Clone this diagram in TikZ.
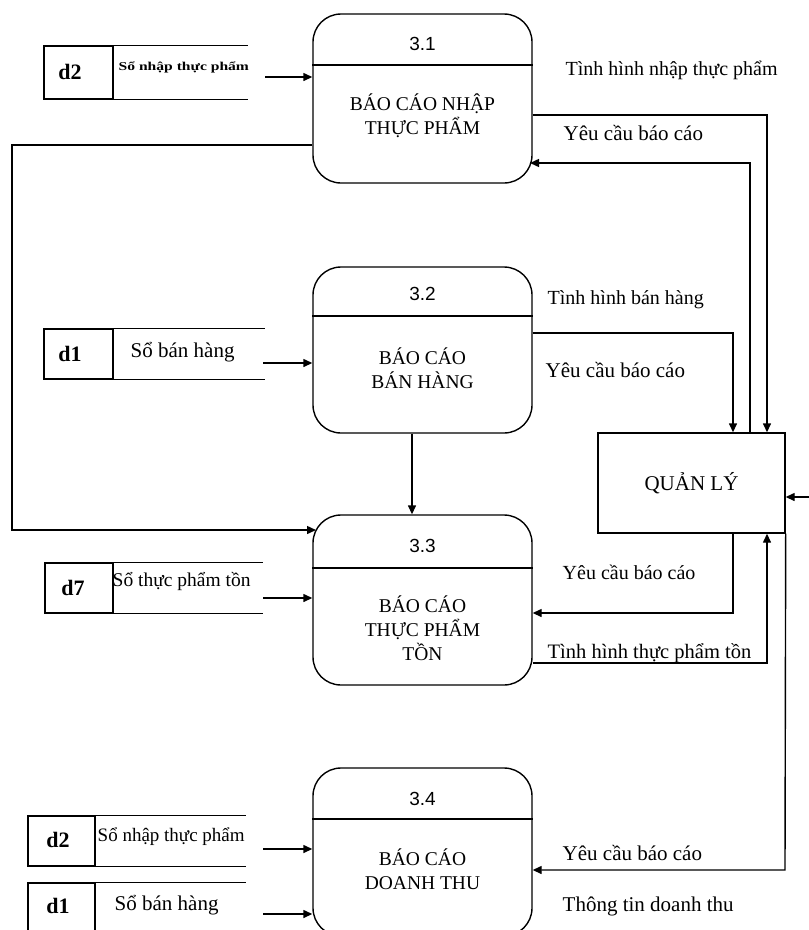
\documentclass[tikz,border=0pt]{standalone}
\usepackage{fontspec}
\setmainfont{Liberation Serif}
\newfontfamily\numfont{Liberation Sans}
\usetikzlibrary{arrows.meta}
\begin{document}
\begin{tikzpicture}[x=1pt,y=-1pt,
  line width=1.4pt,
  arr/.style={-{Triangle[length=9pt,width=8pt]}},
  proc/.style={draw, rounded corners=28pt, minimum width=219pt, minimum height=#1, inner sep=0pt},
  ptitle/.style={font=\fontsize{19.5}{24}\selectfont, align=center, inner sep=0pt},
  pnum/.style={font=\numfont\fontsize{19}{23}\selectfont, inner sep=0pt},
  lab/.style={font=\fontsize{20}{24}\selectfont, anchor=west, inner sep=0pt},
  ylab/.style={lab, font=\fontsize{21}{24}\selectfont},
  sid/.style={font=\bfseries\fontsize{22}{24}\selectfont, inner sep=0pt},
  sbox/.style={draw, inner sep=0pt, minimum width=#1},
]
\useasboundingbox (0,0) rectangle (809,930);
\clip (0,0) rectangle (809,930);

% processes
\node[proc=169pt] (p1) at (422.5,98.5) {};
\node[proc=166pt] (p2) at (422.5,350) {};
\node[proc=170pt] (p3) at (422.5,600) {};
\node[proc=168pt] (p4) at (422.5,852) {};
\draw (p1.west |- 0,65) -- (p1.east |- 0,65);
\draw (p2.west |- 0,316) -- (p2.east |- 0,316);
\draw (p3.west |- 0,568) -- (p3.east |- 0,568);
\draw (p4.west |- 0,819) -- (p4.east |- 0,819);
\node[pnum] (n1) at (422.5,44) {3.1};
\node[pnum] (n2) at (422.5,294) {3.2};
\node[pnum] (n3) at (422.5,546) {3.3};
\node[pnum] (n4) at (422.5,799) {3.4};
\node[ptitle] (t1) at (422.5,116) {BÁO CÁO NHẬP\\THỰC PHẨM};
\node[ptitle] (t2) at (422.5,368) {BÁO CÁO\\BÁN HÀNG};
\node[ptitle] (t3) at (422.5,628) {BÁO CÁO\\THỰC PHẨM\\TỒN};
\node[ptitle] (t4) at (422.5,869) {BÁO CÁO\\DOANH THU};

% manager
\node[draw, minimum width=187pt, minimum height=100pt, inner sep=0pt,
  font=\fontsize{21}{24}\selectfont] (ql) at (691.5,483) {QUẢN LÝ};

% data stores
\node[sbox=69pt, minimum height=53pt] (s1) at (78.5,72.5) {};
\draw (s1.north east) -- (248,0 |- s1.north east);
\draw (s1.south east) -- (248,0 |- s1.south east);
\node[sid] (i1) at (70,72) {d2};
\node[font=\bfseries\fontsize{12}{14}\selectfont, anchor=west, inner sep=0pt] (x1) at (118,67) {\scalebox{1.3}[1]{Sổ nhập thực phẩm}};

\node[sbox=69pt, minimum height=50pt] (s2) at (78.5,354) {};
\draw (s2.north east) -- (265,0 |- s2.north east);
\draw (s2.south east) -- (265,0 |- s2.south east);
\node[sid] (i2) at (70,354) {d1};
\node[lab, font=\fontsize{21}{24}\selectfont] (x2) at (130,352) {Sổ bán hàng};

\node[sbox=68pt, minimum height=50pt] (s3) at (79,588) {};
\draw (s3.north east) -- (263,0 |- s3.north east);
\draw (s3.south east) -- (263,0 |- s3.south east);
\node[sid] (i3) at (73,588) {d7};
\node[lab, font=\fontsize{19.5}{23}\selectfont] (x3) at (112,582) {Sổ thực phẩm tồn};

\node[sbox=67pt, minimum height=50pt] (s4) at (61.5,841) {};
\draw (s4.north east) -- (246,0 |- s4.north east);
\draw (s4.south east) -- (246,0 |- s4.south east);
\node[sid] (i4) at (58,840) {d2};
\node[lab, font=\fontsize{19}{23}\selectfont] (x4) at (97,837) {Sổ nhập thực phẩm};

\node[sbox=67pt, minimum height=70pt] (s5) at (61.5,918) {};
\draw (s5.north east) -- (246,0 |- s5.north east);
\node[sid] (i5) at (58,906) {d1};
\node[lab, font=\fontsize{21}{24}\selectfont] (x5) at (114,905) {Sổ bán hàng};

% flow labels
\node[lab] (l1) at (565,70) {Tình hình nhập thực phẩm};
\node[ylab] (l2) at (563,133) {Yêu cầu báo cáo};
\node[lab] (l3) at (547,300) {Tình hình bán hàng};
\node[ylab] (l4) at (545,370) {Yêu cầu báo cáo};
\node[lab] (l5) at (562,572) {Yêu cầu báo cáo};
\node[lab, font=\fontsize{20.5}{24}\selectfont] (l6) at (547,653) {Tình hình thực phẩm tồn};
\node[ylab] (l7) at (562,853) {Yêu cầu báo cáo};
\node[lab, font=\fontsize{21}{24}\selectfont] (l8) at (562,906) {Thông tin doanh thu};

% free ends
\coordinate (a1) at (265,77);
\coordinate (a2) at (263,363);
\coordinate (a3) at (263,598);
\coordinate (a4) at (263,849);
\coordinate (a5) at (263,914);
\coordinate (r1) at (809,497);

% connectors
\draw[arr] (a1) -- (a1 -| p1.west);
\draw[arr] (a2) -- (a2 -| p2.west);
\draw[arr] (a3) -- (a3 -| p3.west);
\draw[arr] (a4) -- (a4 -| p4.west);
\draw[arr] (a5) -- (a5 -| p4.west);

\draw[arr] (p1.west |- 0,145) -- (12,145) -- (12,530) -- (316,530);
\draw[arr] (p1.east |- 0,115) -- (767,115) -- (767,0 |- ql.north);
\draw[arr] (750,0 |- ql.north) -- (750,163) -- (530,163);
\draw[arr] (p2.east |- 0,333) -- (733,333) -- (733,0 |- ql.north);
\draw[arr] (412,0 |- p2.south) -- (412,0 |- p3.north);
\draw[arr] (733,0 |- ql.south) -- (733,613) -- (p3.east |- 0,613);
\draw[arr] (p3.east |- 0,663) -- (767,663) -- (767,0 |- ql.south);
\draw[arr] (r1) -- (r1 -| ql.east);
\draw[arr] (ql.south east) -- (785,870) -- (p4.east |- 0,870);
\end{tikzpicture}
\end{document}
